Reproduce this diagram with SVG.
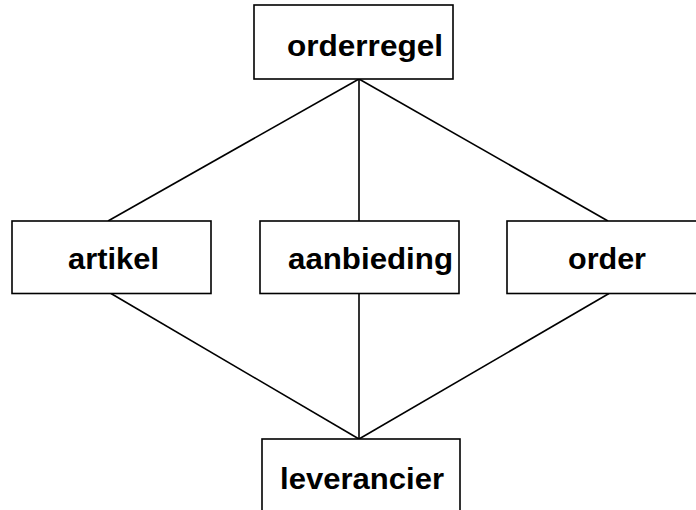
<svg xmlns="http://www.w3.org/2000/svg" width="696" height="510" viewBox="0 0 696 510">
<style>
rect{fill:#fff;stroke:#000;stroke-width:1.6}
line{stroke:#000;stroke-width:1.6}
text{font-family:"Liberation Sans",Arial,sans-serif;font-weight:bold;font-size:30px;fill:#000}
</style>
<rect x="0" y="0" width="696" height="510" style="stroke:none"/>
<g id="connectors">
<line x1="359" y1="79" x2="108" y2="221"/>
<line x1="359" y1="79" x2="359" y2="221"/>
<line x1="359" y1="79" x2="608" y2="221"/>
<line x1="111" y1="293.5" x2="359" y2="439"/>
<line x1="359" y1="293.5" x2="359" y2="439"/>
<line x1="609" y1="293.5" x2="359" y2="439"/>
</g>
<g id="orderregel"><rect x="254" y="5" width="199" height="74"/><text x="287" y="56" textLength="156" lengthAdjust="spacingAndGlyphs">orderregel</text></g>
<g id="artikel"><rect x="12" y="221" width="199" height="72.5"/><text x="68" y="269" textLength="91" lengthAdjust="spacingAndGlyphs">artikel</text></g>
<g id="aanbieding"><rect x="260" y="221" width="199" height="72.5"/><text x="288" y="269" textLength="165" lengthAdjust="spacingAndGlyphs">aanbieding</text></g>
<g id="order"><rect x="507" y="221" width="199" height="72.5"/><text x="568" y="269" textLength="78" lengthAdjust="spacingAndGlyphs">order</text></g>
<g id="leverancier"><rect x="262" y="439" width="198" height="80"/><text x="280" y="489" textLength="164" lengthAdjust="spacingAndGlyphs">leverancier</text></g>
</svg>
